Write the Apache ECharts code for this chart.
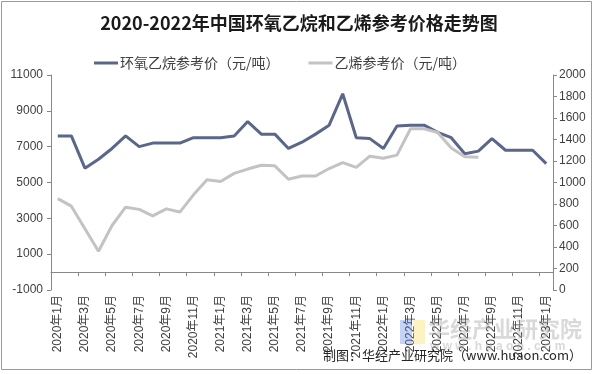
<!DOCTYPE html>
<html><head><meta charset="utf-8">
<script src="https://cdn.jsdelivr.net/npm/echarts@6/dist/echarts.min.js"></script>
<style>html,body{margin:0;padding:0;background:#fff}#c{width:598px;height:374px}</style>
</head><body><div id="c"></div>
<script>
const titleText = '2020-2022年中国环氧乙烷和乙烯参考价格走势图';
const seriesNames = ['环氧乙烷参考价（元/吨）', '乙烯参考价（元/吨）'];
const categories = [];
for (let y = 2020; y <= 2023; y++) for (let m = 1; m <= 12; m++) { if (y === 2023 && m > 1) break; categories.push(y + '年' + m + '月'); }
const eoPrice = [7600,7600,5800,6300,6900,7600,7000,7200,7200,7200,7500,7500,7500,7600,8400,7700,7700,6900,7250,7700,8200,9950,7500,7450,6900,8150,8200,8200,7800,7500,6600,6750,7450,6800,6800,6800,6050];
const ethylenePrice = [850,780,570,360,600,770,750,690,755,725,885,1025,1010,1085,1125,1160,1155,1030,1060,1060,1130,1185,1140,1245,1225,1255,1500,1500,1465,1320,1240,1235];
const leftTicks = [-1000,1000,3000,5000,7000,9000,11000];
const rightTicks = [0,200,400,600,800,1000,1200,1400,1600,1800,2000];
const sourceText = '制图：华经产业研究院（www.huaon.com）';

const chart = echarts.init(document.getElementById('c'), null, {renderer:'canvas'});
const font = '"Liberation Sans", Arial, "Noto Sans CJK SC", sans-serif';
const plain = v => String(v);
chart.setOption({
  animation:false,
  backgroundColor:'#fff',
  textStyle:{fontFamily:font},
  title:{text:titleText,left:'center',top:9,textStyle:{fontSize:18,fontWeight:'bold',color:'#1a1a1a',fontFamily:'"Noto Sans CJK SC", sans-serif'}},
  legend:{top:51,left:89,itemGap:29,itemWidth:24,itemHeight:3,icon:'rect',
    textStyle:{fontSize:14,color:'#404040',fontFamily:'"Noto Sans CJK SC", sans-serif',padding:[0,0,0,-3]},
    data:seriesNames},
  grid:{left:51,right:45,top:75,bottom:84,containLabel:false},
  xAxis:{type:'category',data:categories,boundaryGap:true,
    axisLine:{onZero:true,onZeroAxisIndex:0,lineStyle:{color:'#888',width:1}},
    axisTick:{show:true,interval:1,length:4,lineStyle:{color:'#888'}},
    axisLabel:{interval:1,rotate:90,fontSize:12,color:'#404040',margin:5,fontFamily:font}},
  yAxis:[
    {type:'value',min:-1000,max:11000,interval:2000,position:'left',
      axisLine:{show:true,lineStyle:{color:'#888'}},
      axisTick:{show:true,length:4,lineStyle:{color:'#888'},customValues:leftTicks},
      axisLabel:{fontSize:12,color:'#404040',margin:8,customValues:leftTicks,formatter:plain,fontFamily:font},
      splitLine:{show:false}},
    {type:'value',min:0,max:2000,interval:200,position:'right',
      axisLine:{show:true,lineStyle:{color:'#888'}},
      axisTick:{show:true,length:4,lineStyle:{color:'#888'},customValues:rightTicks},
      axisLabel:{fontSize:12,color:'#404040',margin:6,customValues:rightTicks,formatter:plain,fontFamily:font},
      splitLine:{show:false}}
  ],
  series:[
    {name:seriesNames[0],type:'line',yAxisIndex:0,data:eoPrice,symbol:'none',
      lineStyle:{color:'#5b6789',width:3},itemStyle:{color:'#5b6789'}},
    {name:seriesNames[1],type:'line',yAxisIndex:1,data:ethylenePrice,symbol:'none',
      lineStyle:{color:'#c3c3c3',width:3},itemStyle:{color:'#c3c3c3'}}
  ],
  graphic:[
    {type:'rect',shape:{x:1.5,y:1.5,width:590,height:368},style:{fill:'none',stroke:'#9a9a9a',lineWidth:1},z:-1},
    {type:'rect',shape:{x:400,y:320,width:12,height:24},style:{fill:'rgba(90,130,230,0.35)'},z:10},
    {type:'rect',shape:{x:413,y:320,width:12,height:24},style:{fill:'rgba(250,220,80,0.35)'},z:10},
    {type:'text',left:428,top:318,style:{text:'华经产业研究院',fontSize:22,fontWeight:'bold',fill:'rgba(170,170,170,0.45)',fontFamily:'"Noto Sans CJK SC", sans-serif'},z:10},
    {type:'text',left:430,top:341,style:{text:'w w w . h u a o n . c o m',fontSize:12,fontWeight:'bold',fill:'rgba(170,170,170,0.45)',fontFamily:font},z:10},
    {type:'text',right:16,top:349,style:{text:sourceText,fontSize:13,fill:'#262626',fontFamily:'"Noto Sans CJK SC", sans-serif'},z:11}
  ]
});
</script></body></html>
